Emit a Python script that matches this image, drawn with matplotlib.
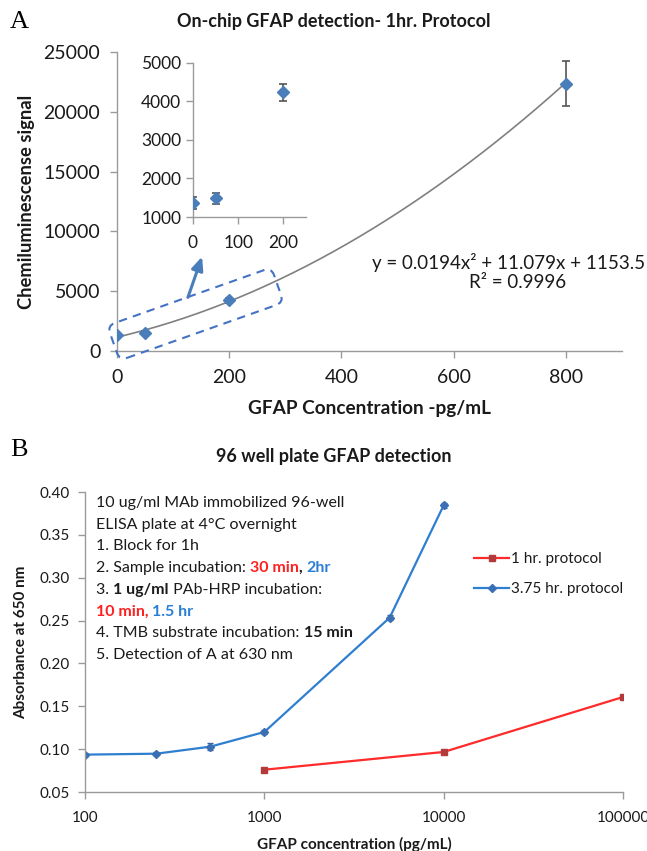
import numpy as np
import matplotlib
matplotlib.use("Agg")
import matplotlib.pyplot as plt
import matplotlib.ticker as mticker
import matplotlib.transforms as mtransforms
from matplotlib.patches import FancyBboxPatch

plt.rcParams['font.family'] = ['Lato', 'DejaVu Sans']

# panel A data
conc_a = [0, 50, 200, 800]
signal_a = [1356, 1486, 4239, 22350]
err_a = [155, 150, 215, 1900]
fit_coef = [0.0194, 11.079, 1153.5]   # trendline shown on the chart

# panel B data
conc_b375 = [100, 250, 500, 1000, 5000, 10000]
abs_b375 = [0.0936, 0.0947, 0.1029, 0.120, 0.2534, 0.3845]
err_b375 = [0.002, 0.002, 0.004, 0.002, 0.003, 0.003]
conc_b1 = [1000, 10000, 100000]
abs_b1 = [0.076, 0.0967, 0.1608]
err_b1 = [0.001, 0.001, 0.001]

W, H = 647, 851
fig = plt.figure(figsize=(W / 100, H / 100), dpi=100)

def box(l, r, t, b):
    return [l / W, 1 - b / H, (r - l) / W, (b - t) / H]

axis_col = '#9a9a9a'
txt_col = '#1a1a1a'
blue = '#4a7ebb'


def style(ax, size):
    for s in ['top', 'right']:
        ax.spines[s].set_visible(False)
    for s in ['left', 'bottom']:
        ax.spines[s].set_color(axis_col)
        ax.spines[s].set_linewidth(1.0)
    ax.tick_params(colors=axis_col, labelcolor=txt_col, labelsize=size,
                   length=5, width=1.0, direction='out')


# ---------- A ----------
ax = fig.add_axes(box(117, 622, 52, 351))
style(ax, 14)
ax.set_xlim(0, 900)
ax.set_ylim(0, 25000)
ax.set_xticks([0, 200, 400, 600, 800])
ax.set_yticks(range(0, 25001, 5000))
ax.tick_params(axis='x', pad=8)
ax.tick_params(axis='y', pad=7)

xs = np.linspace(0, 800, 200)
ax.plot(xs, np.polyval(fit_coef, xs), color='#808080', lw=1.2)
ax.errorbar(conc_a, signal_a, yerr=err_a, fmt='D', color=blue, ms=6,
            ecolor='#555555', elinewidth=1.2, capsize=3, capthick=1.2, zorder=3)

ax.set_xlabel('GFAP Concentration -pg/mL', fontsize=13.7, fontweight='bold',
              color=txt_col, labelpad=10)
ax.set_ylabel('Chemiluminescense signal', fontsize=13.2, fontweight='bold',
              color=txt_col, labelpad=6)
fig.text(334 / W, 1 - 22 / H, 'On-chip GFAP detection- 1hr. Protocol',
         ha='center', va='center', fontsize=13, fontweight='bold', color=txt_col)
fig.text(10 / W, 1 - 22 / H, 'A', fontsize=19, family='Liberation Serif',
         va='center', ha='left')

fig.text(645 / W, 1 - 262 / H, 'y = 0.0194x² + 11.079x + 1153.5',
         ha='right', va='center', fontsize=13.5, color=txt_col)
fig.text(518 / W, 1 - 283 / H, 'R² = 0.9996',
         ha='center', va='center', fontsize=13.5, color=txt_col)

# inset
axi = fig.add_axes(box(193, 306, 63, 217))
style(axi, 12.5)
axi.set_xlim(0, 250)
axi.set_ylim(1000, 5000)
axi.set_xticks([0, 100, 200])
axi.set_yticks(range(1000, 5001, 1000))
axi.tick_params(axis='x', pad=8)
axi.patch.set_alpha(0)
axi.errorbar(conc_a[:3], signal_a[:3], yerr=err_a[:3], fmt='D', color=blue, ms=6,
             ecolor='#555555', elinewidth=1.2, capsize=3, capthick=1.2, zorder=3)

# dashed zoom box and arrow
cx, cy = 195.5 / 100, (H - 314) / 100
bw, bh = 1.74, 0.37
rect = FancyBboxPatch((cx - bw / 2, cy - bh / 2), bw, bh,
                      boxstyle='round,pad=0,rounding_size=0.08',
                      fill=False, ec='#4472c4', lw=1.5, ls=(0, (4, 3)),
                      transform=mtransforms.Affine2D().rotate_deg_around(cx, cy, 19.5)
                      + fig.dpi_scale_trans)
fig.add_artist(rect)
ax.annotate('', xy=(203, H - 254), xytext=(187, H - 300),
            xycoords='figure pixels', textcoords='figure pixels',
            arrowprops=dict(arrowstyle='-|>,head_length=0.8,head_width=0.35',
                            color='#4a7ebb', lw=2.2))

# ---------- B ----------
bx = fig.add_axes(box(85, 623, 492, 792))
style(bx, 11)
bx.set_xscale('log')
bx.set_xlim(100, 100000)
bx.set_ylim(0.05, 0.40)
bx.set_yticks(np.arange(0.05, 0.401, 0.05))
bx.yaxis.set_major_formatter(mticker.FormatStrFormatter('%.2f'))
bx.xaxis.set_major_locator(mticker.FixedLocator([100, 1000, 10000, 100000]))
bx.xaxis.set_minor_locator(mticker.NullLocator())
bx.xaxis.set_major_formatter(mticker.FuncFormatter(lambda v, p: '%d' % v))
bx.tick_params(axis='x', pad=9)
bx.tick_params(axis='y', pad=6)

bx.errorbar(conc_b1, abs_b1, yerr=err_b1, fmt='none', ecolor='#b33a3a', capsize=2)
bx.plot(conc_b1, abs_b1, color='#ff2a2a', lw=1.6, marker='s', ms=5,
        mfc='#b33a3a', mec='#b33a3a', label='1 hr. protocol')
bx.errorbar(conc_b375, abs_b375, yerr=err_b375, fmt='none', ecolor='#3a5f9a', capsize=2)
bx.plot(conc_b375, abs_b375, color='#2f7fd0', lw=1.6, marker='D', ms=4,
        mfc='#3a6fb5', mec='#3a6fb5', label='3.75 hr. protocol')
leg = bx.legend(loc='upper left', bbox_to_anchor=((474 - 85) / 538, 1 - (552 - 492) / 300),
                frameon=False, fontsize=11, handlelength=2.3, handletextpad=0.15,
                labelspacing=1.05, borderaxespad=0, borderpad=0)
for t in leg.get_texts():
    t.set_color(txt_col)

bx.set_xlabel('GFAP concentration (pg/mL)', fontsize=11, fontweight='bold',
              color=txt_col, labelpad=8)
bx.set_ylabel('Absorbance at 650 nm', fontsize=11, fontweight='bold',
              color=txt_col, labelpad=8)
fig.text(334 / W, 1 - 457 / H, '96 well plate GFAP detection',
         ha='center', va='center', fontsize=13, fontweight='bold', color=txt_col)
fig.text(10 / W, 1 - 450 / H, 'B', fontsize=19, family='Liberation Serif',
         va='center', ha='left')

red = '#ff2020'
lblue = '#2a7fd4'
protocol_lines = [
    [('10 ug/ml MAb immobilized 96-well', txt_col, 'normal')],
    [('ELISA plate at 4°C overnight', txt_col, 'normal')],
    [('1. Block for 1h', txt_col, 'normal')],
    [('2. Sample incubation: ', txt_col, 'normal'), ('30 min', red, 'bold'),
     (', ', txt_col, 'bold'), ('2hr', lblue, 'bold')],
    [('3. ', txt_col, 'normal'), ('1 ug/ml', txt_col, 'bold'),
     (' PAb-HRP incubation:', txt_col, 'normal')],
    [('10 min, ', red, 'bold'), ('1.5 hr', lblue, 'bold')],
    [('4. TMB substrate incubation: ', txt_col, 'normal'), ('15 min', txt_col, 'bold')],
    [('5. Detection of A at 630 nm', txt_col, 'normal')],
]
renderer = fig.canvas.get_renderer()
for i, parts in enumerate(protocol_lines):
    x = 96 / W
    y = 1 - (503 + i * 21.7) / H
    for s, c, wgt in parts:
        t = fig.text(x, y, s, color=c, fontweight=wgt, fontsize=11.5,
                     ha='left', va='center')
        bb = t.get_window_extent(renderer)
        x = bb.x1 / fig.bbox.width

fig.savefig('out.png', dpi=100)
